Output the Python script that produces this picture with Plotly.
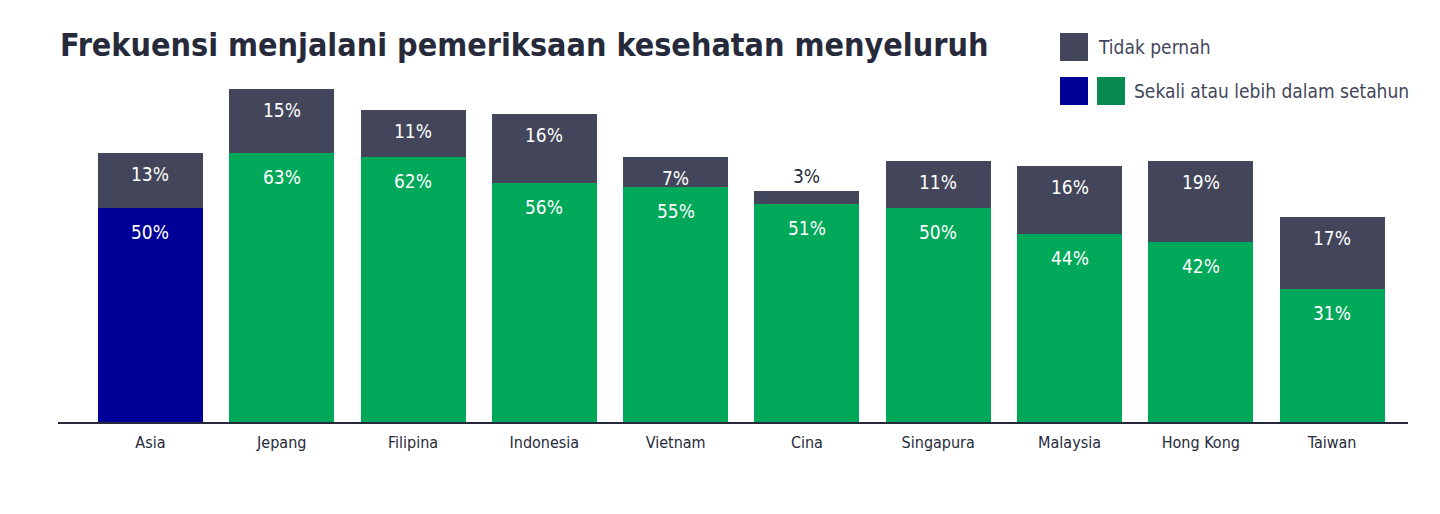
import plotly.graph_objects as go

categories = ["Asia", "Jepang", "Filipina", "Indonesia", "Vietnam", "Cina",
              "Singapura", "Malaysia", "Hong Kong", "Taiwan"]
sekali = [50, 63, 62, 56, 55, 51, 50, 44, 42, 31]
tidak = [13, 15, 11, 16, 7, 3, 11, 16, 19, 17]

GREEN = "#00A859"
BLUE = "#000099"
GRAY = "#43465A"
DARK = "#262A3B"
FONT = "DejaVu Sans Condensed"

W, H = 1440, 514
ML, MR, MT, MB = 58, 32, 80, 92
PW = W - ML - MR
PH = H - MT - MB

def px(x):
    return (x - ML) / PW

def py(y):
    return (H - MB - y) / PH

bar_colors = [BLUE] + [GREEN] * (len(categories) - 1)

fig = go.Figure()
fig.add_trace(go.Bar(x=categories, y=sekali, marker=dict(color=bar_colors, line_width=0),
                     width=0.8, showlegend=False, hoverinfo="skip"))
fig.add_trace(go.Bar(x=categories, y=tidak, marker=dict(color=GRAY, line_width=0),
                     width=0.8, showlegend=False, hoverinfo="skip"))

annotations = []
for c, s, t in zip(categories, sekali, tidak):
    annotations.append(dict(x=c, y=s, xref="x", yref="y", text=f"{s}%", showarrow=False,
                            yanchor="top", yshift=-11,
                            font=dict(family=FONT, size=19, color="white")))
    if t >= 5:
        annotations.append(dict(x=c, y=s + t, xref="x", yref="y", text=f"{t}%", showarrow=False,
                                yanchor="top", yshift=-8,
                                font=dict(family=FONT, size=19, color="white")))
    else:
        annotations.append(dict(x=c, y=s + t, xref="x", yref="y", text=f"{t}%", showarrow=False,
                                yanchor="bottom", yshift=2,
                                font=dict(family=FONT, size=19, color=DARK)))

# title
annotations.append(dict(x=px(58), y=py(45), xref="paper", yref="paper", text="<b>Frekuensi menjalani pemeriksaan kesehatan menyeluruh</b>",
                        showarrow=False, xanchor="left", yanchor="middle",
                        font=dict(family=FONT, size=32, color=DARK)))
# legend
annotations.append(dict(x=px(1096), y=py(47), xref="paper", yref="paper", text="Tidak pernah",
                        showarrow=False, xanchor="left", yanchor="middle",
                        font=dict(family=FONT, size=19, color=GRAY)))
annotations.append(dict(x=px(1132), y=py(91), xref="paper", yref="paper", text="Sekali atau lebih dalam setahun",
                        showarrow=False, xanchor="left", yanchor="middle",
                        font=dict(family=FONT, size=19, color=GRAY)))

shapes = [
    dict(type="rect", xref="paper", yref="paper", x0=px(1060), x1=px(1088), y0=py(61), y1=py(33),
         fillcolor=GRAY, line_width=0),
    dict(type="rect", xref="paper", yref="paper", x0=px(1060), x1=px(1088), y0=py(105), y1=py(77),
         fillcolor=BLUE, line_width=0),
    dict(type="rect", xref="paper", yref="paper", x0=px(1097), x1=px(1125), y0=py(105), y1=py(77),
         fillcolor="#078A4F", line_width=0),
]

fig.update_layout(
    barmode="stack",
    width=W, height=H,
    margin=dict(l=ML, r=MR, t=MT, b=MB),
    paper_bgcolor="white", plot_bgcolor="white",
    annotations=annotations, shapes=shapes,
    xaxis=dict(range=[-0.704, 9.578], showline=True, linecolor=DARK, linewidth=1.5,
               ticks="", tickfont=dict(family=FONT, size=16, color=DARK), showgrid=False,
               ticklabelstandoff=5),
    yaxis=dict(range=[0, 80], visible=False, showgrid=False),
    bargap=0.2,
)

fig.write_html("out.html")
